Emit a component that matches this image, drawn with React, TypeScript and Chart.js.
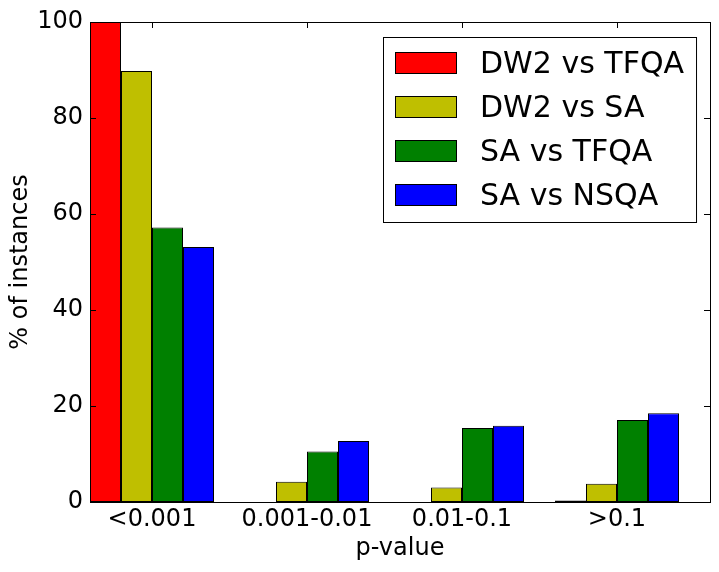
import React, { useEffect, useRef } from 'react';
import { Chart, registerables } from 'chart.js';

Chart.register(...registerables);

// p-value bins and the four comparisons (% of instances)
const categories = ['<0.001', '0.001-0.01', '0.01-0.1', '>0.1'];
const seriesNames = ['DW2 vs TFQA', 'DW2 vs SA', 'SA vs TFQA', 'SA vs NSQA'];
const dw2VsTfqa = [100, 0, 0, 0.3];
const dw2VsSa = [89.8, 4.2, 3.0, 3.8];
const saVsTfqa = [57.2, 10.5, 15.4, 17.1];
const saVsNsqa = [53.1, 12.7, 15.9, 18.5];
const seriesValues = [dw2VsTfqa, dw2VsSa, saVsTfqa, saVsNsqa];
const seriesColors = ['#ff0000', '#bfbf00', '#008000', '#0000ff'];
const yStep = 20;

const FONT = '"DejaVu Sans", "Liberation Sans", sans-serif';
const TICK_LEN = 6;

// matplotlib-style frame: box round the axes plus inward ticks on all four sides
const framePlugin = {
  id: 'frame',
  afterDatasetsDraw(chart: any) {
    const { ctx, chartArea: a, scales } = chart;
    ctx.save();
    ctx.strokeStyle = '#000';
    ctx.lineWidth = 1;
    ctx.beginPath();
    scales.y.ticks.forEach((t: any) => {
      const py = Math.round(scales.y.getPixelForValue(t.value)) + 0.5;
      ctx.moveTo(a.left, py);
      ctx.lineTo(a.left + TICK_LEN, py);
      ctx.moveTo(a.right, py);
      ctx.lineTo(a.right - TICK_LEN, py);
    });
    scales.x.ticks.forEach((t: any) => {
      const px = Math.round(scales.x.getPixelForValue(t.value)) + 0.5;
      ctx.moveTo(px, a.bottom);
      ctx.lineTo(px, a.bottom - TICK_LEN);
      ctx.moveTo(px, a.top);
      ctx.lineTo(px, a.top + TICK_LEN);
    });
    ctx.stroke();
    ctx.strokeRect(a.left + 0.5, a.top + 0.5, a.right - a.left, a.bottom - a.top);
    ctx.restore();
  },
};

// legend in the upper right corner, inside the axes
const boxLegendPlugin = {
  id: 'boxLegend',
  afterDraw(chart: any) {
    const { ctx, chartArea: a } = chart;
    const items = chart.data.datasets;
    ctx.save();
    ctx.font = `30px ${FONT}`;
    const textW = Math.max(...items.map((d: any) => ctx.measureText(d.label).width));
    const padX = 12, swW = 61, swH = 21, gap = 24, rowH = 44;
    const w = padX + swW + gap + textW + padX;
    const h = 185;
    const right = a.right - 14;
    const left = Math.round(right - w);
    const top = a.top + 15;

    ctx.fillStyle = '#fff';
    ctx.fillRect(left, top, w, h);
    ctx.strokeStyle = '#000';
    ctx.lineWidth = 1;
    ctx.strokeRect(left + 0.5, top + 0.5, w, h);

    items.forEach((d: any, i: number) => {
      const cy = top + 25 + rowH * i;
      const sy = Math.round(cy - swH / 2);
      ctx.fillStyle = d.backgroundColor;
      ctx.fillRect(left + padX, sy, swW, swH);
      ctx.strokeRect(left + padX + 0.5, sy + 0.5, swW, swH);
      ctx.fillStyle = '#000';
      ctx.textAlign = 'left';
      ctx.textBaseline = 'alphabetic';
      ctx.fillText(d.label, left + padX + swW + gap, cy + 11);
    });
    ctx.restore();
  },
};

const PValueBars: React.FC = () => {
  const canvasRef = useRef<HTMLCanvasElement>(null);
  const chartRef = useRef<Chart | null>(null);

  useEffect(() => {
    document.body.style.margin = '0';
    if (!canvasRef.current) return;
    if (chartRef.current) chartRef.current.destroy();

    chartRef.current = new Chart(canvasRef.current, {
      type: 'bar',
      data: {
        datasets: seriesNames.map((name, s) => ({
          label: name,
          // groups sit at i .. i+0.8 like matplotlib's ind + k*width
          data: seriesValues[s].map((v, i) => ({ x: i + 0.4, y: v })),
          backgroundColor: seriesColors[s],
          borderColor: '#000',
          borderWidth: 1,
          borderSkipped: false,
          categoryPercentage: 0.8,
          barPercentage: 1,
        })),
      },
      options: {
        animation: false,
        responsive: true,
        maintainAspectRatio: false,
        layout: { padding: { top: 22, right: 9, left: 0, bottom: 0 } },
        plugins: {
          legend: { display: false },
          tooltip: { enabled: false },
        },
        scales: {
          x: {
            type: 'linear',
            min: 0,
            max: categories.length,
            offset: false,
            grid: { display: false, drawTicks: false },
            border: { display: false },
            afterBuildTicks: (scale: any) => {
              scale.ticks = categories.map((_, i) => ({ value: i + 0.4 }));
            },
            afterFit: (scale: any) => {
              scale.height = 70;
            },
            ticks: {
              autoSkip: false,
              maxRotation: 0,
              padding: 3,
              color: '#000',
              font: { family: FONT, size: 24 },
              callback: (_v: any, i: number) => categories[i],
            },
            title: {
              display: true,
              text: 'p-value',
              color: '#000',
              font: { family: FONT, size: 24 },
              padding: { top: 0, bottom: 9 },
            },
          },
          y: {
            min: 0,
            max: 100,
            grid: { display: false, drawTicks: false },
            border: { display: false },
            afterFit: (scale: any) => {
              scale.width = 90;
            },
            ticks: {
              stepSize: yStep,
              padding: 7,
              color: '#000',
              font: { family: FONT, size: 24 },
            },
            title: {
              display: true,
              text: '% of instances',
              color: '#000',
              font: { family: FONT, size: 24 },
              padding: { top: 6, bottom: 0 },
            },
          },
        },
      } as any,
      plugins: [framePlugin, boxLegendPlugin],
    });

    return () => {
      if (chartRef.current) {
        chartRef.current.destroy();
        chartRef.current = null;
      }
    };
  }, []);

  return (
    <div style={{ position: 'relative', width: 719, height: 572, background: '#fff' }}>
      <canvas ref={canvasRef}></canvas>
    </div>
  );
};

export default function App() {
  return <PValueBars />;
}
